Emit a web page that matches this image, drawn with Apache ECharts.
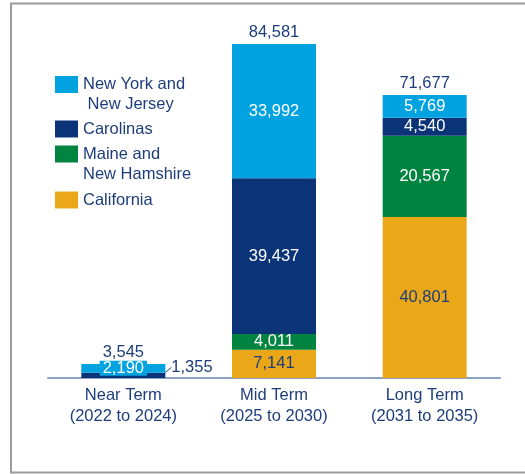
<!DOCTYPE html>
<html>
<head>
<meta charset="utf-8">
<script src="https://cdn.jsdelivr.net/npm/echarts@6/dist/echarts.min.js"></script>
<style>
  html, body { margin: 0; padding: 0; background: #fff; }
  #chart { width: 525px; height: 474px; }
</style>
</head>
<body>
<div id="chart"></div>
<script>
// data
const categories = ['Near Term\n(2022 to 2024)', 'Mid Term\n(2025 to 2030)', 'Long Term\n(2031 to 2035)'];
const seriesNames = ['California', 'Maine and\nNew Hamshire', 'Carolinas', 'New York and\n New Jersey'];
const california = [null, 7141, 40801];
const maineNH = [null, 4011, 20567];
const carolinas = [1355, 39437, 4540];
const newYorkNJ = [2190, 33992, 5769];
const totals = [3545, 84581, 71677];

const NAVY_TEXT = '#1d3d7b';
const FONT = "'Liberation Sans', Arial, sans-serif";
const colors = ['#eaa818', '#00843f', '#0b3478', '#00a3e0'];
const labelColors = [NAVY_TEXT, '#fff', '#fff', '#fff'];
const fmt = v => v.toLocaleString('en-US');

const chart = echarts.init(document.getElementById('chart'));

function stackSeries(idx, values) {
  return {
    name: seriesNames[idx],
    type: 'bar',
    stack: 'total',
    barWidth: 84,
    barGap: '-100%',
    itemStyle: { color: colors[idx] },
    label: {
      show: true,
      position: 'inside',
      color: labelColors[idx],
      fontFamily: FONT,
      fontSize: 16.5,
      formatter: p => fmt(p.value)
    },
    data: values.map((v, i) => {
      // near term is too thin for inside labels
      if (i === 0 && idx === 2) {
        return {
          value: v,
          label: { position: 'right', distance: 6, color: NAVY_TEXT },
          labelLine: { show: true, lineStyle: { color: NAVY_TEXT, width: 1 } }
        };
      }
      if (i === 0 && idx === 3) {
        return { value: v, label: { backgroundColor: colors[3], padding: [0, 3], lineHeight: 15 } };
      }
      return v;
    }),
    labelLayout: p => (p.seriesIndex === 2 && p.dataIndex === 0 ? { dy: -8 } : {})
  };
}

// two-line entries: swatch sits beside the first line only
function legendItem(idx, top, twoLines) {
  return {
    data: [seriesNames[idx]],
    left: 55,
    top: top,
    padding: 0,
    orient: 'vertical',
    icon: twoLines ? 'path://M0,0H23V17H0Z M0,37L0.01,37' : 'rect',
    itemWidth: 23,
    itemHeight: twoLines ? 37 : 17,
    itemGap: 0,
    selectedMode: false,
    textStyle: {
      color: NAVY_TEXT,
      fontFamily: FONT,
      fontSize: 16.5,
      lineHeight: 20
    }
  };
}

const option = {
  animation: false,
  graphic: [{
    type: 'rect',
    shape: { x: 11, y: 3.5, width: 540, height: 469 },
    style: { fill: 'none', stroke: '#9b9b9b', lineWidth: 2 },
    silent: true
  }],
  legend: [
    legendItem(3, 74.5, true),
    legendItem(2, 119, false),
    legendItem(1, 144, true),
    legendItem(0, 190, false)
  ],
  grid: { left: 48, right: 25, top: 22.6, bottom: 96 },
  xAxis: {
    type: 'category',
    data: categories,
    axisLine: { lineStyle: { color: '#8ea2c6', width: 2 } },
    axisTick: { show: false },
    axisLabel: {
      color: NAVY_TEXT,
      fontFamily: FONT,
      fontSize: 16.5,
      lineHeight: 21,
      margin: 7
    }
  },
  yAxis: { type: 'value', min: 0, max: 90000, show: false },
  series: [
    stackSeries(0, california),
    stackSeries(1, maineNH),
    stackSeries(2, carolinas),
    stackSeries(3, newYorkNJ),
    {
      name: 'Total',
      type: 'bar',
      barWidth: 84,
      barGap: '-100%',
      z: 1,
      silent: true,
      itemStyle: { color: 'rgba(0,0,0,0)' },
      label: {
        show: true,
        position: 'top',
        distance: 3,
        color: NAVY_TEXT,
        fontFamily: FONT,
        fontSize: 16.5,
        formatter: p => fmt(p.value)
      },
      data: totals
    }
  ]
};

chart.setOption(option);
</script>
</body>
</html>
